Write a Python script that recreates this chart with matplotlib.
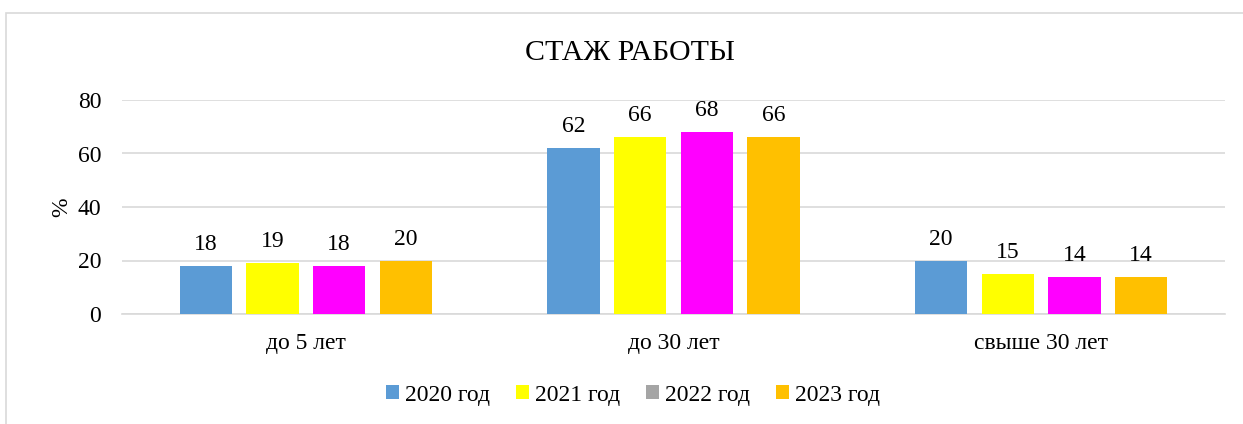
import matplotlib
matplotlib.use("Agg")
import matplotlib.pyplot as plt
import numpy as np
from matplotlib.patches import Rectangle, Patch

categories = ["до 5 лет", "до 30 лет", "свыше 30 лет"]
series = ["2020 год", "2021 год", "2022 год", "2023 год"]
values = {
    "2020 год": [18, 62, 20],
    "2021 год": [19, 66, 15],
    "2022 год": [18, 68, 14],
    "2023 год": [20, 66, 14],
}
bar_colors = ["#5B9BD5", "#FFFF00", "#FF00FF", "#FFC000"]
legend_colors = ["#5B9BD5", "#FFFF00", "#A5A5A5", "#FFC000"]
title = "СТАЖ РАБОТЫ"
ylabel = "%"
yticks = [0, 20, 40, 60, 80]

plt.rcParams['font.family'] = ['Liberation Serif', 'DejaVu Serif']
FS = 17

fig = plt.figure(figsize=(12.43, 4.24), dpi=100)
# outer chart border
fig.patches.append(Rectangle((6/1243, -0.1), 1.2, (424-13)/424 + 0.1, transform=fig.transFigure,
                             fill=False, edgecolor="#D9D9D9", linewidth=1.2))
ax = fig.add_axes([122/1243, 1-314/424, (1225-122)/1243, (314-100)/424])

x = np.arange(len(categories))
width = 0.142
step = 0.1815
for i, s in enumerate(series):
    offs = (i - 1.5) * step
    bars = ax.bar(x + offs, values[s], width, color=bar_colors[i], zorder=3)
    for b, v in zip(bars, values[s]):
        ax.annotate(str(v), (b.get_x() + b.get_width()/2, v), xytext=(0, 11.5),
                    textcoords="offset points", ha="center", va="baseline",
                    fontsize=FS, color="#000000")

ax.set_xlim(-0.5, 2.5)
ax.set_ylim(0, 80)
ax.set_yticks(yticks)
ax.set_xticks(x)
ax.set_xticklabels(categories)
ax.tick_params(axis="both", length=0, labelsize=FS)
ax.tick_params(axis="x", pad=14)
ax.tick_params(axis="y", pad=15)
ax.yaxis.grid(True, color="#D9D9D9", linewidth=1.2, zorder=0)
for sp in ["top", "right", "left"]:
    ax.spines[sp].set_visible(False)
ax.spines["bottom"].set_color("#D9D9D9")
ax.spines["bottom"].set_linewidth(1.2)
ax.set_ylabel(ylabel, fontsize=FS, labelpad=4)

fig.text(630/1243, 1-52.5/424, title, ha="center", va="center", fontsize=21.5)

handles = [Patch(facecolor=c, edgecolor="none") for c in legend_colors]
fig.legend(handles, series, loc="center", bbox_to_anchor=(633/1243, 1-395/424), ncol=4,
           frameon=False, fontsize=FS, handlelength=0.55, handleheight=0.55,
           handletextpad=0.25, columnspacing=1.1)

fig.savefig("out.png", dpi=100)
